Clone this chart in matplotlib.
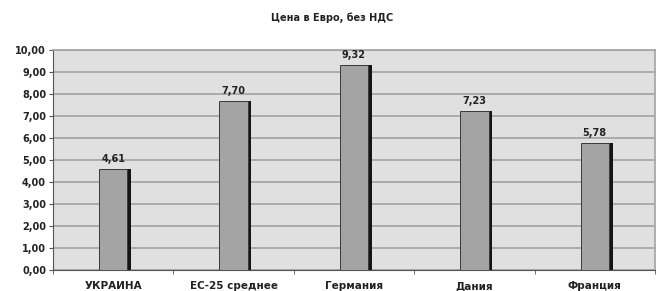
import numpy as np
import matplotlib.pyplot as plt

categories = ["УКРАИНА", "ЕС-25 среднее", "Германия", "Дания", "Франция"]
values = [4.61, 7.70, 9.32, 7.23, 5.78]
labels = ["4,61", "7,70", "9,32", "7,23", "5,78"]
yticks = np.arange(0, 11, 1)

plt.rcParams['font.family'] = ['DejaVu Sans']

fig = plt.figure(figsize=(6.56, 2.91), dpi=100)
ax = fig.add_axes([53 / 656, 1 - 270 / 291, 602 / 656, 220 / 291])
ax.set_facecolor("#e0e0e0")

x = np.arange(len(categories))
w = 0.235
# shadow for the 3D look
ax.bar(x + 0.03, values, width=w, color="#151515", zorder=2)
ax.bar(x, values, width=w, color="#a4a4a4", edgecolor="#3a3a3a", linewidth=0.7, zorder=3)

for xi, v, lab in zip(x, values, labels):
    ax.text(xi, v + 0.22, lab, ha="center", va="bottom", fontsize=7, fontweight="bold", color="#222222")

ax.set_xlim(-0.5, len(categories) - 0.5)
ax.set_ylim(0, 10)
ax.set_yticks(yticks)
ax.set_yticklabels([f"{t:.2f}".replace(".", ",") for t in yticks], fontsize=7, fontweight="bold", color="#222222")
ax.yaxis.grid(True, color="#a2a2a2", linewidth=1.2, zorder=0)
ax.set_axisbelow(True)

ax.set_xticks(x)
ax.set_xticklabels(categories, fontsize=7.5, fontweight="bold", color="#222222")
ax.tick_params(axis="x", length=0, pad=8)
ax.set_xticks(np.arange(-0.5, len(categories)), minor=True)
ax.tick_params(axis="x", which="minor", length=3, color="#555555")
ax.tick_params(axis="y", length=3, color="#555555", pad=2)

for s in ["top", "right"]:
    ax.spines[s].set_color("#a2a2a2")
    ax.spines[s].set_linewidth(1.2)
for s in ["left", "bottom"]:
    ax.spines[s].set_color("#555555")

fig.text(332 / 656, 1 - 18 / 291, "Цена в Евро, без НДС", ha="center", va="center", fontsize=7, fontweight="bold", color="#222222")

fig.savefig("out.png", dpi=100)
